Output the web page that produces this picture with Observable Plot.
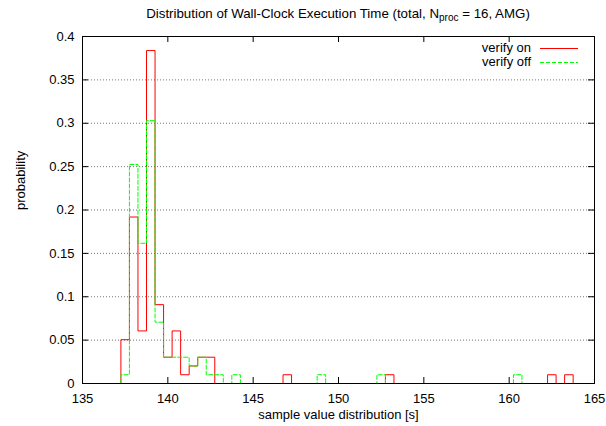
<!DOCTYPE html>
<html>
<head>
<meta charset="utf-8">
<script src="https://cdn.jsdelivr.net/npm/d3@7"></script>
<script src="https://cdn.jsdelivr.net/npm/@observablehq/plot@0.6"></script>
<style>
  html, body { margin: 0; padding: 0; background: #fff; }
  #wrap { position: relative; width: 606px; height: 426px; font-family: "Liberation Sans", Arial, sans-serif; }
  #title { position: absolute; left: 82px; width: 512px; top: 6px; text-align: center; font-size: 13.3px; line-height: 16px; color: #000; white-space: nowrap; }
  #title sub { font-size: 10px; vertical-align: -3px; line-height: 0; }
  #legendText { position: absolute; left: 0; top: 41px; width: 531px; text-align: right; font-size: 13px; line-height: 14px; color: #000; }
  #legendSwatch { position: absolute; left: 0; top: 0; }
</style>
</head>
<body>
<div id="wrap">
  <div id="chart"></div>
  <div id="title">Distribution of Wall-Clock Execution Time (total, N<sub>proc</sub> = 16, AMG)</div>
  <div id="legendText"><div>verify on</div><div>verify off</div></div>
  <svg id="legendSwatch" width="606" height="80">
    <line x1="540" x2="578" y1="48.5" y2="48.5" stroke="#ff0000" stroke-width="1"></line>
    <line x1="540" x2="578" y1="62.5" y2="62.5" stroke="#00ff00" stroke-width="1" stroke-dasharray="4,2"></line>
  </svg>
</div>
<script>
// ---- data ----
const binWidth = 0.5;
const seriesNames = ["verify on", "verify off"];
const redBins  = [137.5, 138, 138.5, 139, 139.5, 140, 140.5, 141, 141.5, 142, 142.5, 147, 153, 162.5, 163.5];
const redProb  = [0.0505, 0.1919, 0.0606, 0.3838, 0.0909, 0.0303, 0.0606, 0.0101, 0.0202, 0.0303, 0.0303, 0.0101, 0.0101, 0.0101, 0.0101];
const greenBins = [137.5, 138, 138.5, 139, 139.5, 140, 140.5, 141, 141.5, 142, 142.5, 143, 144, 149, 152.5, 160.5];
const greenProb = [0.0101, 0.2525, 0.1616, 0.303, 0.0707, 0.0303, 0.0303, 0.0303, 0.0202, 0.0303, 0.0101, 0.0101, 0.0101, 0.0101, 0.0101, 0.0101];
const xTicks = [135, 140, 145, 150, 155, 160, 165];
const yTicks = [0, 0.05, 0.1, 0.15, 0.2, 0.25, 0.3, 0.35, 0.4];
const xLabel = "sample value distribution [s]";
const yLabel = "probability";

// build step outline (histogram steps) from bins
function outline(bins, probs) {
  const pts = [];
  const h = binWidth / 2;
  bins.forEach((c, i) => {
    const L = c - h, R = c + h, v = probs[i];
    if (i === 0 || bins[i - 1] !== c - binWidth) pts.push({x: L, y: 0});
    pts.push({x: L, y: v}, {x: R, y: v});
    if (i === bins.length - 1 || bins[i + 1] !== c + binWidth) pts.push({x: R, y: 0});
  });
  return pts;
}
const redPts = outline(redBins, redProb);
const greenPts = outline(greenBins, greenProb);

const W = 606, H = 426, mL = 82, mR = 12, mT = 36, mB = 43;
const innerW = W - mL - mR, innerH = H - mT - mB;
const tick = 6;

const chart = Plot.plot({
  width: W, height: H,
  marginLeft: mL, marginRight: mR, marginTop: mT, marginBottom: mB,
  style: {fontFamily: '"Liberation Sans", Arial, sans-serif', fontSize: "13px", color: "#000", background: "#fff"},
  x: {domain: [135, 165]},
  y: {domain: [0, 0.4]},
  marks: [
    Plot.ruleY(yTicks.slice(1, -1), {y: d => d, stroke: "#777", strokeWidth: 1, strokeDasharray: "1,2"}),
    Plot.axisX({ticks: xTicks, tickSize: 0, tickPadding: 10, label: null, tickFormat: d => String(d), fontSize: 13}),
    Plot.axisY({ticks: yTicks, tickSize: 0, tickPadding: 8, label: null, tickFormat: d => String(d), fontSize: 13}),
    Plot.tickX(xTicks, {x: d => d, insetTop: innerH - tick, stroke: "#000"}),
    Plot.tickX(xTicks, {x: d => d, insetBottom: innerH - tick, stroke: "#000"}),
    Plot.tickY(yTicks, {y: d => d, insetRight: innerW - tick, stroke: "#000"}),
    Plot.tickY(yTicks, {y: d => d, insetLeft: innerW - tick, stroke: "#000"}),
    Plot.line(redPts, {x: "x", y: "y", stroke: "#ff0000", strokeWidth: 1, title: () => seriesNames[0]}),
    Plot.line(greenPts, {x: "x", y: "y", stroke: "#00ff00", strokeWidth: 1, strokeDasharray: "4,2", title: () => seriesNames[1]}),
    Plot.frame({stroke: "#000", strokeWidth: 1}),
    Plot.text([xLabel], {frameAnchor: "bottom", dy: 35, text: d => d, fontSize: 13, fill: "#000"}),
    Plot.text([yLabel], {frameAnchor: "left", dx: -62, rotate: -90, text: d => d, fontSize: 13, fill: "#000"})
  ]
});
document.getElementById("chart").appendChild(chart);
</script>
</body>
</html>
